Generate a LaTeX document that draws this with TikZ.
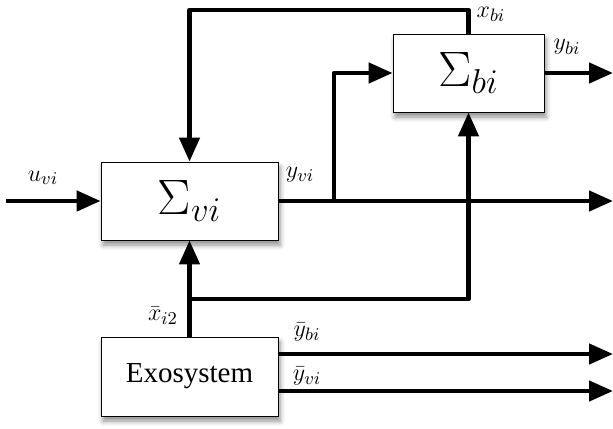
\documentclass[tikz,border=0pt]{standalone}
\usepackage{fontspec}
\setmainfont{Liberation Serif}
\usetikzlibrary{arrows.meta,positioning,calc,shadows.blur}
\tikzset{blk/.style={draw,thin,fill=white,inner sep=0pt,
    blur shadow={shadow xshift=1pt,shadow yshift=-2.5pt,shadow blur radius=2.5pt,shadow opacity=45}},
  sig/.style={font=\fontsize{24}{28}\selectfont},
  wire/.style={line width=2.3pt,line join=round},
  arr/.style={wire,-{Triangle[length=12pt,width=10pt]}},
  lab/.style={font=\fontsize{13}{15}\selectfont}}
\begin{document}
\begin{tikzpicture}[x=0.5pt,y=-0.5pt]
\useasboundingbox (0,0) rectangle (613,428);
\node[blk,sig,minimum width=88.5pt,minimum height=39pt] (sv) at (189.5,201) {$\Sigma_{vi}$};
\node[blk,sig,minimum width=75.5pt,minimum height=39pt] (sb) at (468.5,73) {$\Sigma_{bi}$};
\node[blk,font=\fontsize{14.5}{17}\selectfont,minimum width=88.5pt,minimum height=39.5pt] (exo) at (189.5,376.5) {Exosystem};
\coordinate (uin) at (6,201);
\coordinate (yo) at (613,201);
\coordinate (ybo) at (613,73);
\coordinate (jo) at (334,201);
\coordinate (jx) at (189.5,299);
\coordinate (fb) at (189.5,10);
\coordinate (ybb) at (613,354);
\coordinate (yvb) at (613,391);
\draw[arr] (uin) -- (sv.west);
\draw[arr] (sv.east) -- (yo);
\draw[arr] (jo) |- (sb.west);
\draw[arr] (sb.east) -- (ybo);
\draw[arr] (sb.north) |- (fb) -- (sv.north);
\draw[arr] (exo.north) -- (sv.south);
\draw[arr] (jx) -| (sb.south);
\draw[arr] (exo.east |- ybb) -- (ybb);
\draw[arr] (exo.east |- yvb) -- (yvb);
\node[lab] (lu) at (43,178) {$u_{vi}$};
\node[lab] (lyv) at (300,175) {$y_{vi}$};
\node[lab] (lxb) at (491,14) {$x_{bi}$};
\node[lab] (lyb) at (567,47) {$y_{bi}$};
\node[lab] (lxi) at (163,316) {$\bar{x}_{i2}$};
\node[lab] (lybb) at (307,332) {$\bar{y}_{bi}$};
\node[lab] (lyvb) at (307,376) {$\bar{y}_{vi}$};
\end{tikzpicture}
\end{document}
